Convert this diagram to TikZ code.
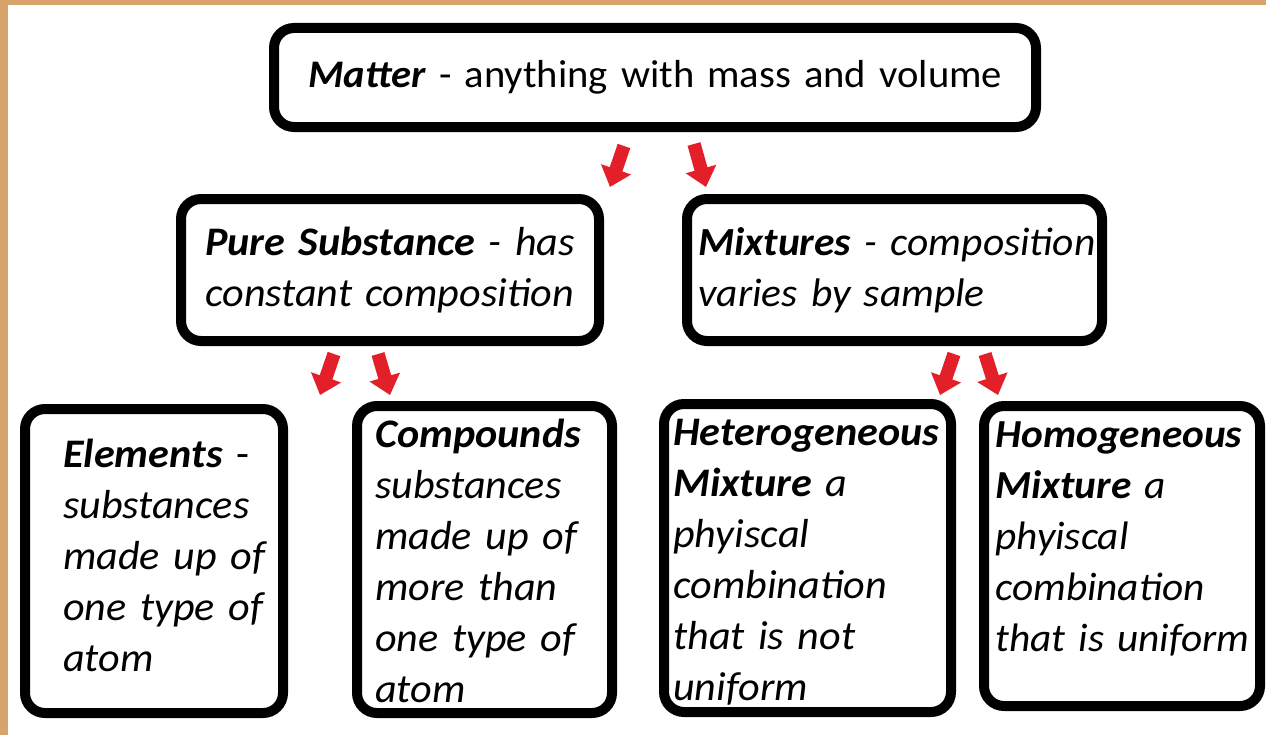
\documentclass[tikz,border=0pt]{standalone}
\usepackage{fontspec}
\setmainfont{Carlito}[FakeStretch=1.04]
\usetikzlibrary{arrows.meta,fit}
\definecolor{framecol}{HTML}{D8A36B}
\definecolor{arrred}{HTML}{E3202A}
\begin{document}
\begin{tikzpicture}[x=0.75pt,y=-0.75pt,
  box/.style={draw=black, line width=7.5pt, rounded corners=15pt, inner sep=0pt},
  txt/.style={anchor=base west, inner sep=0pt, text width=500pt, align=left,
    font=\fontsize{30.4pt}{38.25pt}\selectfont},
  redarrow/.style={draw=arrred, line width=10pt, -{Triangle[length=14pt,width=23pt]}}
]
\useasboundingbox (0,0) rectangle (1266,735);
\fill[white] (0,0) rectangle (1266,735);
\fill[framecol] (0,0) rectangle (1266,5);
\fill[framecol] (0,0) rectangle (8,735);

% boxes
\node[box, fit={(274,28) (1036,127)}] (matter) {};
\node[box, fit={(181,199) (599,341)}] (pure) {};
\node[box, fit={(687,199) (1102,341)}] (mix) {};
\node[box, fit={(25,409) (283,713)}] (elem) {};
\node[box, fit={(357,406) (612,713)}] (comp) {};
\node[box, fit={(664,404) (951,712)}] (het) {};
\node[box, fit={(984,406) (1260,706)}] (hom) {};

% texts
\node[txt, text width=700pt, font=\fontsize{29.3pt}{38.25pt}\selectfont] (tmatter) at (308,88) {\textbf{\textit{Matter}} - anything with mass and volume};
\node[txt] (tpure) at (205,255) {\textbf{\textit{Pure Substance}} \textit{- has}\\\textit{constant composition}};
\node[txt, font=\fontsize{29.9pt}{38.25pt}\selectfont] (tmix) at (698,255) {\textbf{\textit{Mixtures}} \textit{- composition}\\\textit{varies by sample}};
\node[txt] (telem) at (63,467) {\textbf{\textit{Elements}} -\\\textit{substances}\\\textit{made up of}\\\textit{one type of}\\\textit{atom}};
\node[txt] (tcomp) at (375,447) {\textbf{\textit{Compounds}}\\\textit{substances}\\\textit{made up of}\\\textit{more than}\\\textit{one type of}\\\textit{atom}};
\node[txt] (thet) at (673,445) {\textbf{\textit{Heterogeneous}}\\\textbf{\textit{Mixture}} \textit{a}\\\textit{phyiscal}\\\textit{combination}\\\textit{that is not}\\\textit{uniform}};
\node[txt, font=\fontsize{29.8pt}{38.25pt}\selectfont] (thom) at (995,447) {\textbf{\textit{Homogeneous}}\\\textbf{\textit{Mixture}} \textit{a}\\\textit{phyiscal}\\\textit{combination}\\\textit{that is uniform}};

% arrows
\coordinate (a1s) at (624,146); \coordinate (a1e) at (610,187);
\coordinate (a2s) at (694,144); \coordinate (a2e) at (706,187);
\coordinate (a3s) at (334,354); \coordinate (a3e) at (320,395);
\coordinate (a4s) at (378,354); \coordinate (a4e) at (390,395);
\coordinate (a5s) at (954,354); \coordinate (a5e) at (940,395);
\coordinate (a6s) at (985,354); \coordinate (a6e) at (998,395);
\draw[redarrow] (a1s) -- (a1e);
\draw[redarrow] (a2s) -- (a2e);
\draw[redarrow] (a3s) -- (a3e);
\draw[redarrow] (a4s) -- (a4e);
\draw[redarrow] (a5s) -- (a5e);
\draw[redarrow] (a6s) -- (a6e);
\end{tikzpicture}
\end{document}
